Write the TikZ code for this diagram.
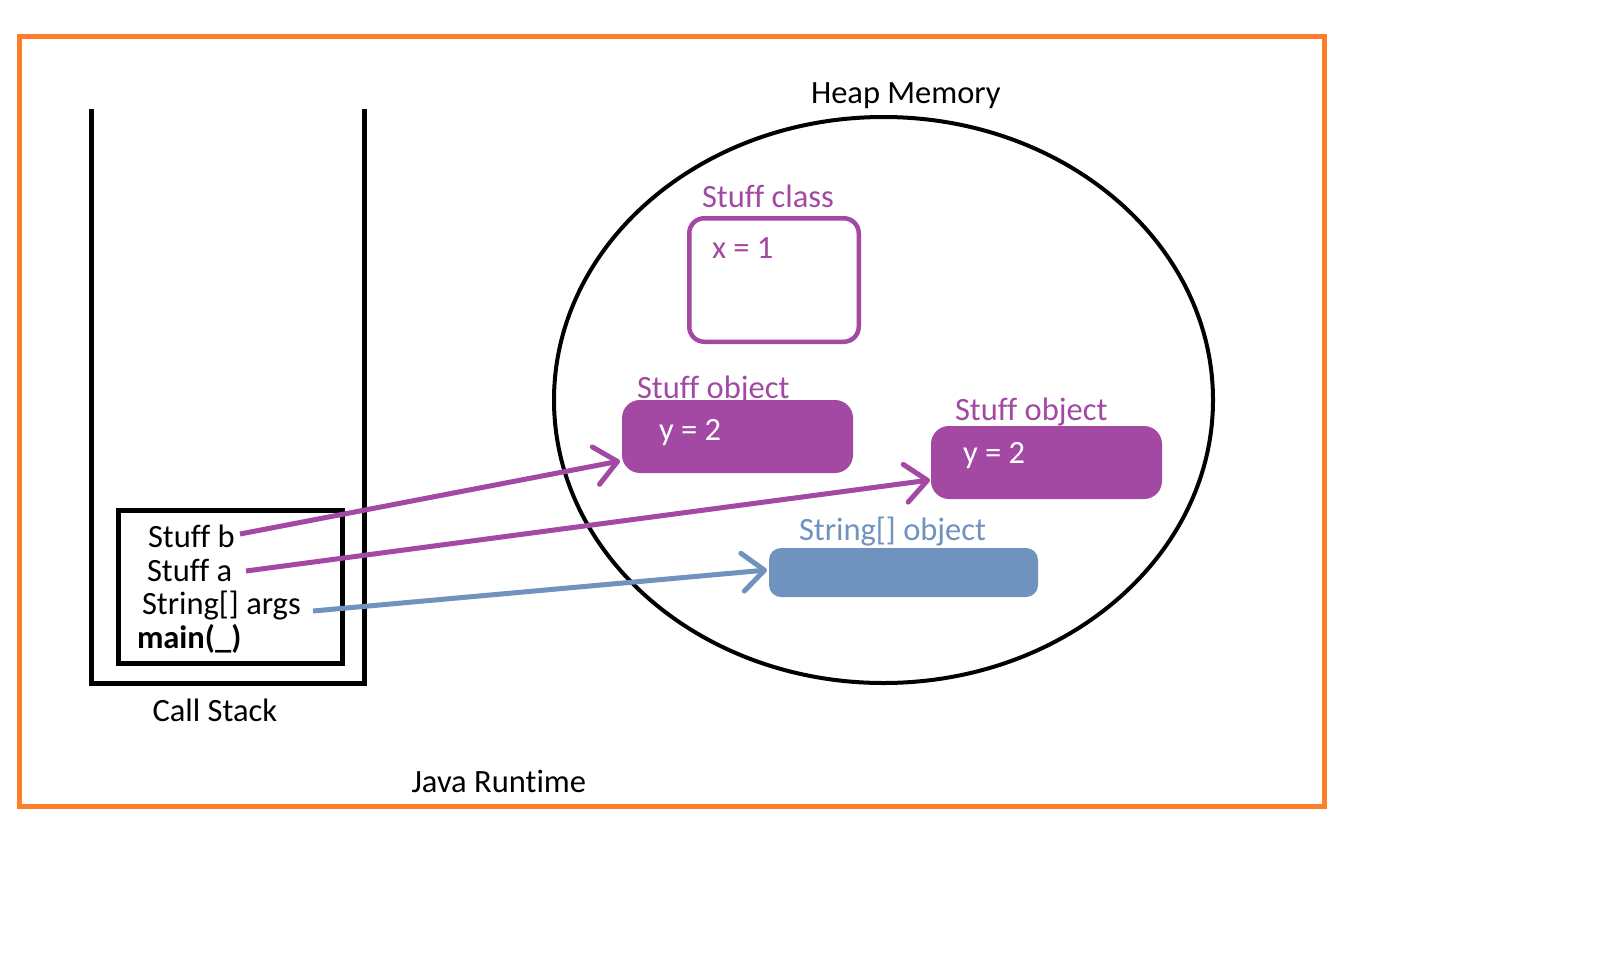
\documentclass[tikz,border=0pt]{standalone}
\usepackage{fontspec}
\setmainfont{Carlito}[Ligatures=CommonOff]
\usetikzlibrary{arrows.meta,shapes.geometric}
\definecolor{paintorange}{RGB}{255,127,39}
\definecolor{paintpurple}{RGB}{163,73,164}
\definecolor{paintblue}{RGB}{112,146,190}
\tikzset{
  txt/.style={inner sep=0pt, outer sep=0pt, anchor=base west, font=\fontsize{32.5}{38}\selectfont},
  ptxt/.style={txt, text=paintpurple},
  btxt/.style={txt, text=paintblue},
  wtxt/.style={txt, text=white},
  objbox/.style={inner sep=0pt, outer sep=0pt, minimum width=231pt, minimum height=73pt, fill=paintpurple, rounded corners=18pt},
  ref/.style={line width=5pt, -{Straight Barb[length=22pt,width=38pt,round]}},
}
\begin{document}
\begin{tikzpicture}[x=1pt,y=-1pt]
\useasboundingbox (0,0) rectangle (1606,975);
\fill[white] (0,0) rectangle (1606,975);
% Java runtime frame
\node[draw=paintorange, line width=5pt, inner sep=0pt, minimum width=1305pt, minimum height=770pt] (runtime) at (672,421.5) {};
\node[txt] (runtimelbl) at (411.6,792) {Java Runtime};
% Call stack
\draw[line width=5pt, line join=miter] (91.5,109) -- (91.5,683.5) -- (364.5,683.5) -- (364.5,109);
\node[txt] (stacklbl) at (152.5,721) {Call Stack};
\node[draw, line width=4.7pt, inner sep=0pt, minimum width=224pt, minimum height=153pt] (mainframe) at (230.5,587) {};
\node[txt] (stuffb) at (148,547) {Stuff b};
\node[txt] (stuffa) at (147,581) {Stuff a};
\node[txt] (args) at (142,614) {String[] args};
\node[txt, font=\fontsize{32.5}{38}\selectfont\bfseries] (mainlbl) at (137,648) {main(\_)};
% Heap
\node[ellipse, draw, line width=4pt, inner sep=0pt, minimum width=659pt, minimum height=566pt] (heap) at (883.5,400) {};
\node[txt] (heaplbl) at (811,103) {Heap Memory};
% Stuff class
\node[ptxt] (classlbl) at (702,207) {Stuff class};
\node[draw=paintpurple, line width=4.5pt, rounded corners=15pt, inner sep=0pt, minimum width=169.5pt, minimum height=123.5pt] (classbox) at (774,280) {};
\node[ptxt] (xval) at (712,258) {x = 1};
% Stuff objects
\node[ptxt] (obj1lbl) at (637,398) {Stuff object};
\node[objbox] (obj1) at (737.5,436.5) {};
\node[wtxt] (y1) at (659,440) {y = 2};
\node[ptxt] (obj2lbl) at (955,420) {Stuff object};
\node[objbox] (obj2) at (1046.5,462.5) {};
\node[wtxt] (y2) at (963,463) {y = 2};
% String[] object
\node[btxt] (strlbl) at (799,540) {String[] object};
\node[inner sep=0pt, outer sep=0pt, minimum width=269pt, minimum height=49pt, fill=paintblue, rounded corners=12pt] (strbox) at (903.5,572.5) {};
% references
\coordinate (bstart) at (240,534);
\coordinate (bend) at (620,461);
\coordinate (astart) at (246,571);
\coordinate (aend) at (930,480);
\coordinate (argstart) at (313,611);
\coordinate (argend) at (767,570);
\draw[ref, paintpurple] (bstart) -- (bend);
\draw[ref, paintpurple] (astart) -- (aend);
\draw[ref, paintblue] (argstart) -- (argend);
\end{tikzpicture}
\end{document}
